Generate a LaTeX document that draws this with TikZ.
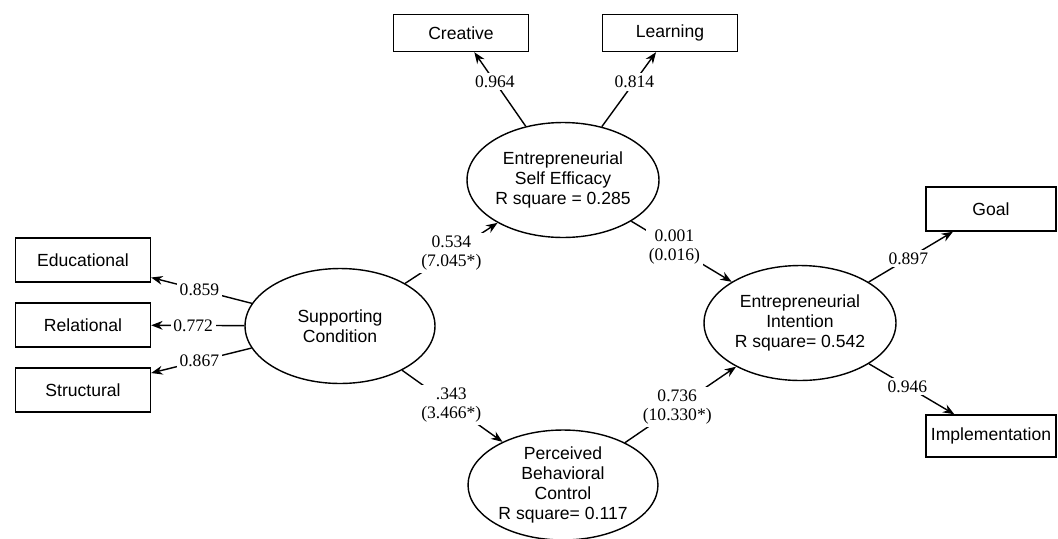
\documentclass[tikz,border=0pt]{standalone}
\usepackage{fontspec}
\setmainfont{Liberation Serif}
\setsansfont{Liberation Sans}
\usetikzlibrary{shapes.geometric,arrows.meta}

\begin{document}
\begin{tikzpicture}[x=0.02cm,y=-0.02cm,line width=0.8pt,
    indicator/.style={draw,rectangle,minimum width=2.7cm,minimum height=0.88cm,inner sep=0pt,font=\sffamily\fontsize{10}{11.5}\selectfont},
    construct/.style={draw,ellipse,minimum width=3.84cm,minimum height=2.3cm,inner sep=0pt,align=center,font=\sffamily\fontsize{10}{11.5}\selectfont},
    coef/.style={fill=white,inner sep=1.5pt,align=center,font=\fontsize{10}{11}\selectfont},
    link/.style={-{Stealth[length=6.5pt,width=5pt]}}]

        \useasboundingbox (0,0) rectangle (1058,538);

        %Constructs
        \node[construct] (ESE) at (563,180) {Entrepreneurial\\Self Efficacy\\R square = 0.285};
        \node[construct,minimum width=3.8cm] (SC) at (340,326) {Supporting\\Condition};
        \node[construct,minimum width=3.8cm,minimum height=2.2cm] (PBC) at (563,485) {Perceived\\Behavioral\\Control\\R square= 0.117};
        \node[construct] (EI) at (800,323) {Entrepreneurial\\Intention\\R square= 0.542};

        %Indicators
        \node[indicator,minimum height=0.74cm] (Creative) at (461,33) {Creative};
        \node[indicator,minimum height=0.74cm] (Learning) at (670,33) {Learning};
        \node[indicator] (Educational) at (83,260) {Educational};
        \node[indicator] (Relational) at (83,325) {Relational};
        \node[indicator] (Structural) at (83,390) {Structural};
        \node[indicator,minimum width=2.6cm] (Goal) at (991,209) {Goal};
        \node[indicator,minimum width=2.6cm,minimum height=0.84cm] (Implementation) at (991,436) {Implementation};

        %Loadings
        \draw[link] (ESE) -- (Creative) node[coef,pos=0.6] {0.964};
        \draw[link] (ESE) -- (Learning) node[coef,pos=0.6] {0.814};
        \draw[link] (SC) -- (Educational) node[coef,pos=0.52] {0.859};
        \draw[link] (SC) -- (Relational) node[coef,pos=0.55] {0.772};
        \draw[link] (SC) -- (Structural) node[coef,pos=0.52] {0.867};
        \draw[link] (EI) -- (Goal) node[coef,pos=0.47] {0.897};
        \draw[link] (EI) -- (Implementation) node[coef,pos=0.45] {0.946};

        %Paths
        \draw[link] (SC) -- (ESE) node[coef,pos=0.5] {0.534\\(7.045*)};
        \draw[link] (SC) -- (PBC) node[coef,pos=0.49] {.343\\(3.466*)};
        \draw[link] (ESE) -- (EI) node[coef,pos=0.43] {0.001\\(0.016)};
        \draw[link] (PBC) -- (EI) node[coef,pos=0.47] {0.736\\(10.330*)};
    \end{tikzpicture}
\end{document}
